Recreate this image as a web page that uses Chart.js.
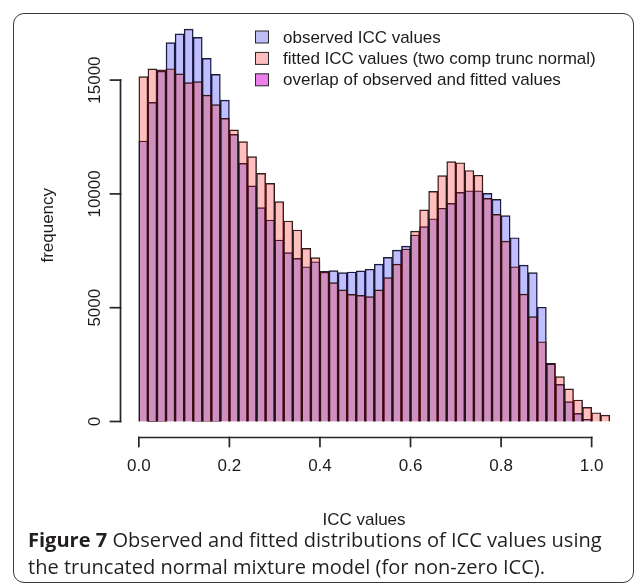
<!DOCTYPE html>
<html>
<head>
<meta charset="utf-8">
<script src="https://cdn.jsdelivr.net/npm/chart.js@4.4.0/dist/chart.umd.min.js"></script>
<style>
  html, body { margin: 0; padding: 0; background: #fff; width: 634px; height: 584px; overflow: hidden; }
  #frame { position: absolute; left: 13px; top: 13px; width: 621px; height: 570px; box-sizing: border-box;
           border: 1.5px solid #3a3a3a; border-radius: 11px; }
  #wrap { position: absolute; left: 0; top: 0; width: 634px; height: 540px; }
  #caption { position: absolute; left: 28px; top: 526px; font-family: "Open Sans", Lato, sans-serif;
             font-size: 18px; line-height: 27px; color: #231f20; white-space: nowrap; }
</style>
</head>
<body>
<div id="frame"></div>
<div id="wrap"><canvas id="histChart" width="634" height="540"></canvas></div>
<div id="caption"><span id="capLine1"><b>Figure 7</b> Observed and fitted distributions of ICC values using</span><br>the truncated normal mixture model (for non-zero ICC).</div>
<script>
// bin centres (bin width 0.02)
const binMids = [0.01, 0.03, 0.05, 0.07, 0.09, 0.11, 0.13, 0.15, 0.17, 0.19,
                 0.21, 0.23, 0.25, 0.27, 0.29, 0.31, 0.33, 0.35, 0.37, 0.39,
                 0.41, 0.43, 0.45, 0.47, 0.49, 0.51, 0.53, 0.55, 0.57, 0.59,
                 0.61, 0.63, 0.65, 0.67, 0.69, 0.71, 0.73, 0.75, 0.77, 0.79,
                 0.81, 0.83, 0.85, 0.87, 0.89, 0.91, 0.93, 0.95, 0.97, 0.99,
                 1.01, 1.03];

const observed = [12325, 14025, 15400, 16650, 17030, 17245, 16880, 15960, 15255, 14125,
                  12620, 11345, 10350, 9395, 8855, 7975, 7420, 7170, 6800, 7020,
                  6560, 6630, 6540, 6570, 6615, 6690, 6920, 7215, 7535, 7710,
                  8195, 8560, 8910, 9370, 9585, 10070, 10140, 10140, 10025, 9760,
                  9045, 8075, 6875, 6540, 5020, 2560, 1635, 870, 360, 100,
                  0, 0];

const fitted = [15150, 15490, 15450, 15500, 15270, 14890, 14930, 14345, 13920, 13320,
                12810, 12295, 11635, 10905, 10465, 9660, 8810, 8415, 7610, 7200,
                6600, 6100, 5780, 5590, 5545, 5485, 5780, 6320, 6920, 7580,
                8370, 9295, 10115, 10800, 11415, 11370, 11030, 10820, 9805, 9100,
                7930, 6800, 5600, 4605, 3505, 2530, 1970, 1430, 945, 625,
                385, 285];

const xTicks = [0, 0.2, 0.4, 0.6, 0.8, 1.0];
const yTicks = [0, 5000, 10000, 15000];

const legendLabels = ['observed ICC values', 'fitted ICC values (two comp trunc normal)', 'overlap of observed and fitted values'];
const legendColors = ['#bdbdf7', '#fbbdbd', '#ea7eea'];

const AXIS_FONT = '"Liberation Sans", Arial, sans-serif';
const INK = '#1c1c1c';
const AXIS_INK = '#262626';

// stretch caption so that the first line has the printed width
(function fitCaption() {
    const cap = document.getElementById('caption');
    const w = document.getElementById('capLine1').getBoundingClientRect().width;
    if (w > 0) cap.style.fontSize = (18 * 574 / w).toFixed(2) + 'px';
})();

function segment(ctx, x1, y1, x2, y2) {
    ctx.beginPath();
    ctx.moveTo(x1, y1);
    ctx.lineTo(x2, y2);
    ctx.stroke();
}

// R-like axes: line only between first and last tick, ticks, rotated y labels, legend in plot
const rStyle = {
    id: 'rStyle',
    afterDraw(chart) {
        const { ctx, chartArea, scales: { x, y } } = chart;
        ctx.save();

        ctx.fillStyle = INK;
        ctx.font = '17px ' + AXIS_FONT;

        // y tick labels, parallel to axis
        ctx.textAlign = 'center';
        ctx.textBaseline = 'alphabetic';
        yTicks.forEach(v => {
            ctx.save();
            ctx.translate(chartArea.left - 20, y.getPixelForValue(v));
            ctx.rotate(-Math.PI / 2);
            ctx.fillText(String(v), 0, 0);
            ctx.restore();
        });

        // x axis title
        ctx.textBaseline = 'middle';
        ctx.fillText('ICC values', 364, 520);

        // legend
        ctx.textAlign = 'left';
        ctx.strokeStyle = AXIS_INK;
        ctx.lineWidth = 1;
        legendLabels.forEach((txt, i) => {
            const ry = 37 + i * 21.4;
            ctx.fillStyle = legendColors[i];
            ctx.fillRect(255.5, ry - 6, 13, 12);
            ctx.strokeRect(255.5, ry - 6, 13, 12);
            ctx.fillStyle = INK;
            ctx.fillText(txt, 283, ry + 1);
        });

        // axis lines and ticks
        ctx.lineWidth = 1.7;
        ctx.lineCap = 'square';
        const yb = Math.round(chartArea.bottom) + 0.5;
        const xl = Math.round(chartArea.left) + 0.5;
        segment(ctx, x.getPixelForValue(xTicks[0]), yb, x.getPixelForValue(xTicks[xTicks.length - 1]), yb);
        xTicks.forEach(v => {
            const px = x.getPixelForValue(v);
            segment(ctx, px, yb, px, yb + 9);
        });
        segment(ctx, xl, y.getPixelForValue(yTicks[0]), xl, y.getPixelForValue(yTicks[yTicks.length - 1]));
        yTicks.forEach(v => {
            const py = y.getPixelForValue(v);
            segment(ctx, xl, py, xl - 10, py);
        });
        ctx.restore();
    }
};

const barBorder = 'rgba(20,20,20,0.95)';

new Chart(document.getElementById('histChart'), {
    type: 'bar',
    data: {
        labels: binMids,
        datasets: [
            { label: 'observed', data: observed, backgroundColor: 'rgba(0,0,255,0.25)', borderColor: barBorder, borderWidth: 0.8, order: 1 },
            { label: 'fitted', data: fitted, backgroundColor: 'rgba(255,0,0,0.25)', borderColor: barBorder, borderWidth: 0.8, order: 0 }
        ]
    },
    options: {
        responsive: false,
        animation: false,
        events: [],
        grouped: false,
        barPercentage: 1,
        categoryPercentage: 1,
        layout: { padding: { left: 0, right: 5.4, top: 13.3, bottom: 0 } },
        plugins: { legend: { display: false }, tooltip: { enabled: false } },
        scales: {
            x: {
                type: 'linear',
                min: -0.0416, max: 1.0816,
                offset: false,
                afterBuildTicks: s => { s.ticks = xTicks.map(v => ({ value: v })); },
                afterFit: s => { s.height = 102.8; },
                grid: { display: false, offset: false, drawOnChartArea: false },
                border: { display: false },
                ticks: { padding: 11, color: INK, maxRotation: 0, autoSkip: false,
                         font: { family: AXIS_FONT, size: 17 }, callback: v => v.toFixed(1) }
            },
            y: {
                min: -690, max: 17935,
                afterBuildTicks: s => { s.ticks = yTicks.map(v => ({ value: v })); },
                afterFit: s => { s.width = 120; },
                grid: { display: false, drawOnChartArea: false },
                border: { display: false },
                ticks: { display: false },
                title: { display: true, text: 'frequency', color: INK,
                         font: { family: AXIS_FONT, size: 17 }, padding: { top: 38, bottom: 0 } }
            }
        }
    },
    plugins: [rStyle]
});
</script>
</body>
</html>
